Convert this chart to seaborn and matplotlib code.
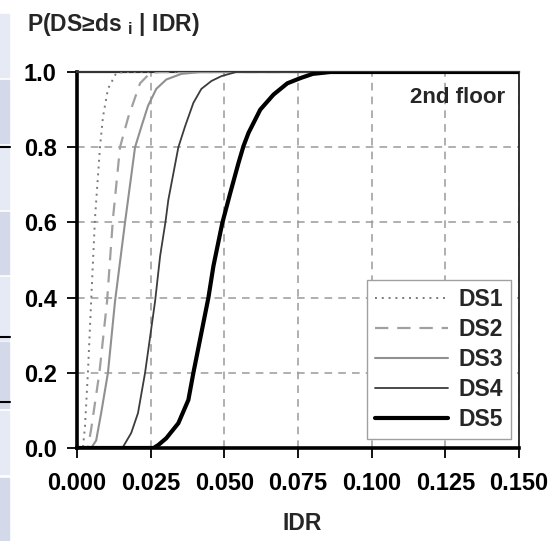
import pandas as pd
import matplotlib.pyplot as plt
import seaborn as sns
from matplotlib.patches import Rectangle

# fragility curves (IDR, probability)
ds1_idr = [0.0, 0.002, 0.0027, 0.0037, 0.0048, 0.0061, 0.0078, 0.0088, 0.0105, 0.0133, 0.016, 0.150]
ds1_p = [0.0, 0.0, 0.056, 0.20, 0.39, 0.61, 0.80, 0.88, 0.955, 0.997, 1.0, 1.0]

ds2_idr = [0.0, 0.0037, 0.0048, 0.0076, 0.0102, 0.0122, 0.0146, 0.0174, 0.0214, 0.0248, 0.028, 0.150]
ds2_p = [0.0, 0.0, 0.05, 0.20, 0.39, 0.61, 0.80, 0.88, 0.97, 0.997, 1.0, 1.0]

ds3_idr = [0.0, 0.0048, 0.0065, 0.0082, 0.0105, 0.0129, 0.0163, 0.018, 0.0197, 0.0219,
           0.0241, 0.0269, 0.0303, 0.0354, 0.042, 0.150]
ds3_p = [0.0, 0.0, 0.02, 0.093, 0.20, 0.39, 0.60, 0.70, 0.80, 0.856,
         0.91, 0.955, 0.98, 0.995, 1.0, 1.0]

ds4_idr = [0.0, 0.0154, 0.0184, 0.0207, 0.0231, 0.0265, 0.0282, 0.030, 0.031, 0.0344,
           0.0367, 0.0395, 0.0422, 0.0456, 0.049, 0.054, 0.150]
ds4_p = [0.0, 0.0, 0.04, 0.093, 0.20, 0.39, 0.51, 0.60, 0.66, 0.80,
         0.856, 0.918, 0.955, 0.976, 0.989, 1.0, 1.0]

ds5_idr = [0.0, 0.026, 0.0276, 0.0303, 0.0344, 0.0378, 0.0395, 0.0446, 0.0463, 0.0493,
           0.052, 0.0548, 0.0565, 0.0582, 0.0622, 0.0667, 0.0714, 0.0759, 0.080, 0.086, 0.150]
ds5_p = [0.0, 0.0, 0.008, 0.026, 0.066, 0.128, 0.20, 0.40, 0.484, 0.598,
         0.678, 0.758, 0.803, 0.838, 0.90, 0.94, 0.97, 0.984, 0.995, 1.0, 1.0]

labels = ['DS1', 'DS2', 'DS3', 'DS4', 'DS5']
x_ticks = [0.000, 0.025, 0.050, 0.075, 0.100, 0.125, 0.150]
y_ticks = [0.0, 0.2, 0.4, 0.6, 0.8, 1.0]

sns.set_theme(style="ticks")
plt.rcParams['font.family'] = ['Liberation Sans', 'DejaVu Sans']
plt.rcParams['font.weight'] = 'bold'
plt.rcParams['mathtext.fontset'] = 'custom'
plt.rcParams['mathtext.bf'] = 'Liberation Sans:bold'
plt.rcParams['mathtext.rm'] = 'Liberation Sans:bold'

fig = plt.figure(figsize=(5.54, 5.41), dpi=100)
ax = fig.add_axes([77 / 554, 1 - 448 / 541, 442 / 554, 376 / 541])

styles = [
    dict(color='#7a7a7a', lw=1.4, ls=(0, (1, 2.5))),
    dict(color='#a0a0a0', lw=1.6, ls=(0, (6, 4))),
    dict(color='#909090', lw=1.5, ls='-'),
    dict(color='#3c3c3c', lw=1.3, ls='-'),
    dict(color='#000000', lw=3.0, ls='-'),
]
curves = [(ds1_idr, ds1_p), (ds2_idr, ds2_p), (ds3_idr, ds3_p), (ds4_idr, ds4_p), (ds5_idr, ds5_p)]

for (xs, ys), lab, st in zip(curves, labels, styles):
    df = pd.DataFrame({'IDR': xs, 'P': ys})
    sns.lineplot(data=df, x='IDR', y='P', ax=ax, label=lab, color=st['color'],
                 linewidth=st['lw'], linestyle=st['ls'], zorder=3)

ax.set_xlim(0, 0.150)
ax.set_ylim(0, 1.0)
ax.set_xticks(x_ticks)
ax.set_yticks(y_ticks)
ax.set_xticklabels([f'{v:.3f}' for v in x_ticks])
ax.set_yticklabels([f'{v:.1f}' for v in y_ticks])
ax.tick_params(axis='both', labelsize=17, length=7, width=1.3, colors='black')
ax.tick_params(axis='x', pad=10)
ax.tick_params(axis='y', pad=7.5)
ax.set_xlabel('')
ax.set_ylabel('')
ax.grid(True, color='#9a9a9a', linestyle=(0, (5, 4)), linewidth=1.1, zorder=1)

for side in ['left', 'bottom']:
    ax.spines[side].set_linewidth(2.6)
    ax.spines[side].set_color('black')
ax.spines['top'].set_linewidth(1.6)
ax.spines['top'].set_color('#333333')
ax.spines['right'].set_linewidth(1.3)
ax.spines['right'].set_color('#222222')

ax.text(0.968, 0.933, '2nd floor', transform=ax.transAxes, ha='right', va='center',
        fontsize=16, fontweight='bold')

leg = ax.legend(loc='lower right', bbox_to_anchor=(0.982, 0.024), borderaxespad=0,
                fontsize=16.5, handlelength=3.2, handletextpad=0.45, labelspacing=0.3,
                borderpad=0.35, fancybox=False, framealpha=1, edgecolor='#a0a0a0')
leg.get_frame().set_linewidth(1.0)
for t in leg.get_texts():
    t.set_fontweight('bold')

fig.text(27 / 554, 1 - 31 / 541, r'P(DS≥ds $_{\mathbf{i}}$ | IDR)', fontsize=16.5,
         fontweight='bold', ha='left', va='baseline')
fig.text(302 / 554, 1 - 523 / 541, 'IDR', fontsize=16.5, fontweight='bold',
         ha='center', va='center')

# slide background strip on the left edge
strip = [(14, 77, '#e6eaf4'), (80, 143, '#d3d9e9'), (146, 209, '#e6eaf4'), (212, 274, '#d3d9e9'),
         (277, 340, '#e6eaf4'), (342, 408, '#d3d9e9'), (411, 474, '#e6eaf4'), (478, 541, '#d3d9e9')]
for y0, y1, c in strip:
    fig.patches.append(Rectangle((0, 1 - y1 / 541), 9 / 554, (y1 - y0) / 541,
                                 transform=fig.transFigure, color=c, zorder=0))
for yy in [147, 337, 402]:
    fig.add_artist(plt.Line2D([0, 10 / 554], [1 - yy / 541] * 2, color='black', lw=1.5,
                              transform=fig.transFigure))

plt.savefig('out.png', dpi=100)
